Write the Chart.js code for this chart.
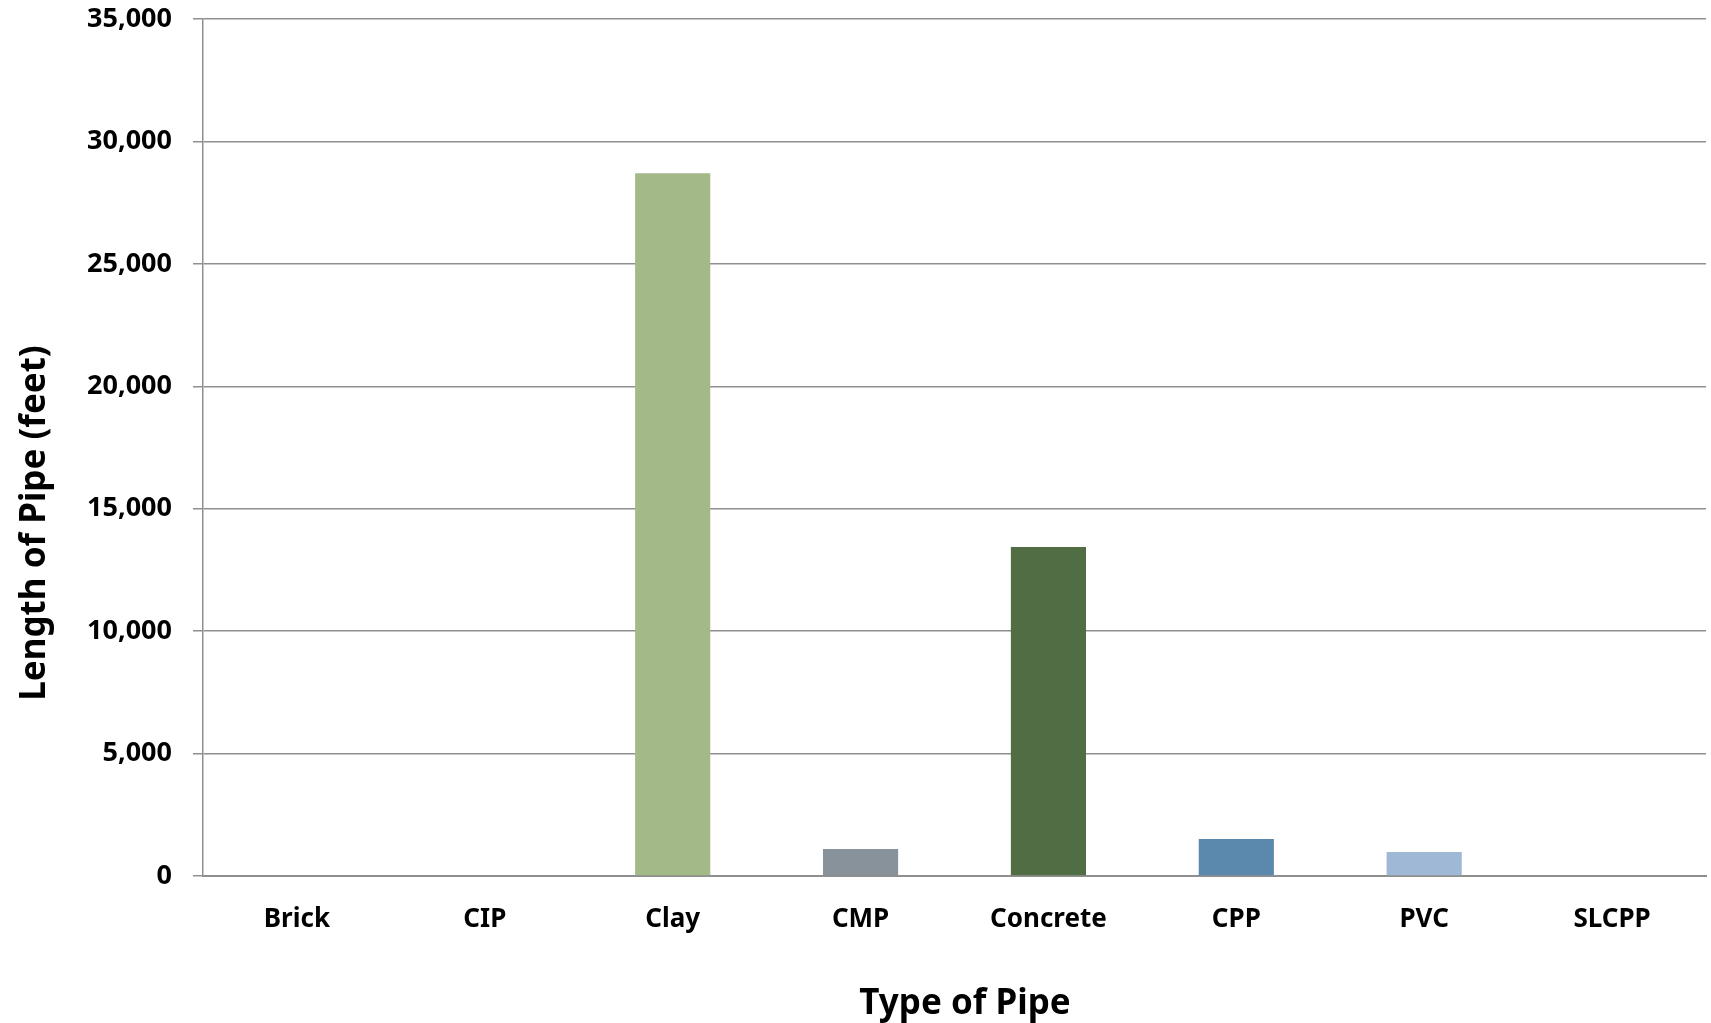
<!DOCTYPE html>
<html>
<head>
<meta charset="utf-8">
<script src="https://cdn.jsdelivr.net/npm/chart.js@4"></script>
<style>
  html, body { margin: 0; padding: 0; background: #fff; }
  #wrap { width: 1711px; height: 1023px; }
</style>
</head>
<body>
<div id="wrap"><canvas id="pipeChart" width="1711" height="1023"></canvas></div>
<script>
'use strict';

const pipeTypes = ['Brick', 'CIP', 'Clay', 'CMP', 'Concrete', 'CPP', 'PVC', 'SLCPP'];
const pipeLengths = [0, 0, 28700, 1100, 13440, 1510, 980, 0];
const barColors = ['#a3b987', '#a3b987', '#a3b987', '#88929b', '#506d43', '#5b89ae', '#9eb8d5', '#a3b987'];
const yTicks = [0, 5000, 10000, 15000, 20000, 25000, 30000, 35000];

const FONT = '"Noto Sans", "Open Sans", sans-serif';
const GRID = '#8f8f8f';

// axis titles sit where the original put them, not where Chart.js centres them
const axisTitles = {
  id: 'axisTitles',
  afterDraw(chart) {
    const ctx = chart.ctx;
    ctx.save();
    ctx.fillStyle = '#000';
    ctx.font = 'bold 35px ' + FONT;
    ctx.textAlign = 'center';
    ctx.textBaseline = 'middle';
    ctx.fillText('Type of Pipe', 965, 1004);
    ctx.translate(35, 523);
    ctx.rotate(-Math.PI / 2);
    ctx.fillText('Length of Pipe (feet)', 0, 0);
    ctx.restore();
  }
};

function renderChart() {
  const ctx = document.getElementById('pipeChart');

  new Chart(ctx, {
    type: 'bar',
    data: {
      labels: pipeTypes,
      datasets: [{
        data: pipeLengths,
        backgroundColor: barColors,
        borderWidth: 0,
        categoryPercentage: 1,
        barPercentage: 0.4
      }]
    },
    options: {
      responsive: false,
      animation: false,
      layout: { padding: { top: 19, right: 5, left: 0, bottom: 0 } },
      scales: {
        x: {
          grid: { display: false, drawTicks: false },
          border: { display: true, color: GRID, width: 2 },
          ticks: {
            color: '#000',
            padding: 28,
            font: { family: FONT, weight: 'bold', size: 26 }
          },
          afterFit(scale) { scale.height = 147; }
        },
        y: {
          min: 0,
          max: 35000,
          afterBuildTicks(scale) { scale.ticks = yTicks.map(v => ({ value: v })); },
          grid: { color: GRID, lineWidth: 1.5, tickLength: 10, drawTicks: true },
          border: { display: true, color: GRID, width: 1.5 },
          ticks: {
            color: '#000',
            padding: 21,
            font: { family: FONT, weight: 'bold', size: 27 },
            callback: v => v.toLocaleString('en-US')
          },
          afterFit(scale) {
            scale.width = 203;
            scale.paddingTop = 0;
            scale.paddingBottom = 0;
          }
        }
      },
      plugins: {
        legend: { display: false },
        tooltip: { enabled: false }
      }
    },
    plugins: [axisTitles]
  });
}

document.addEventListener('DOMContentLoaded', renderChart);
</script>
</body>
</html>
